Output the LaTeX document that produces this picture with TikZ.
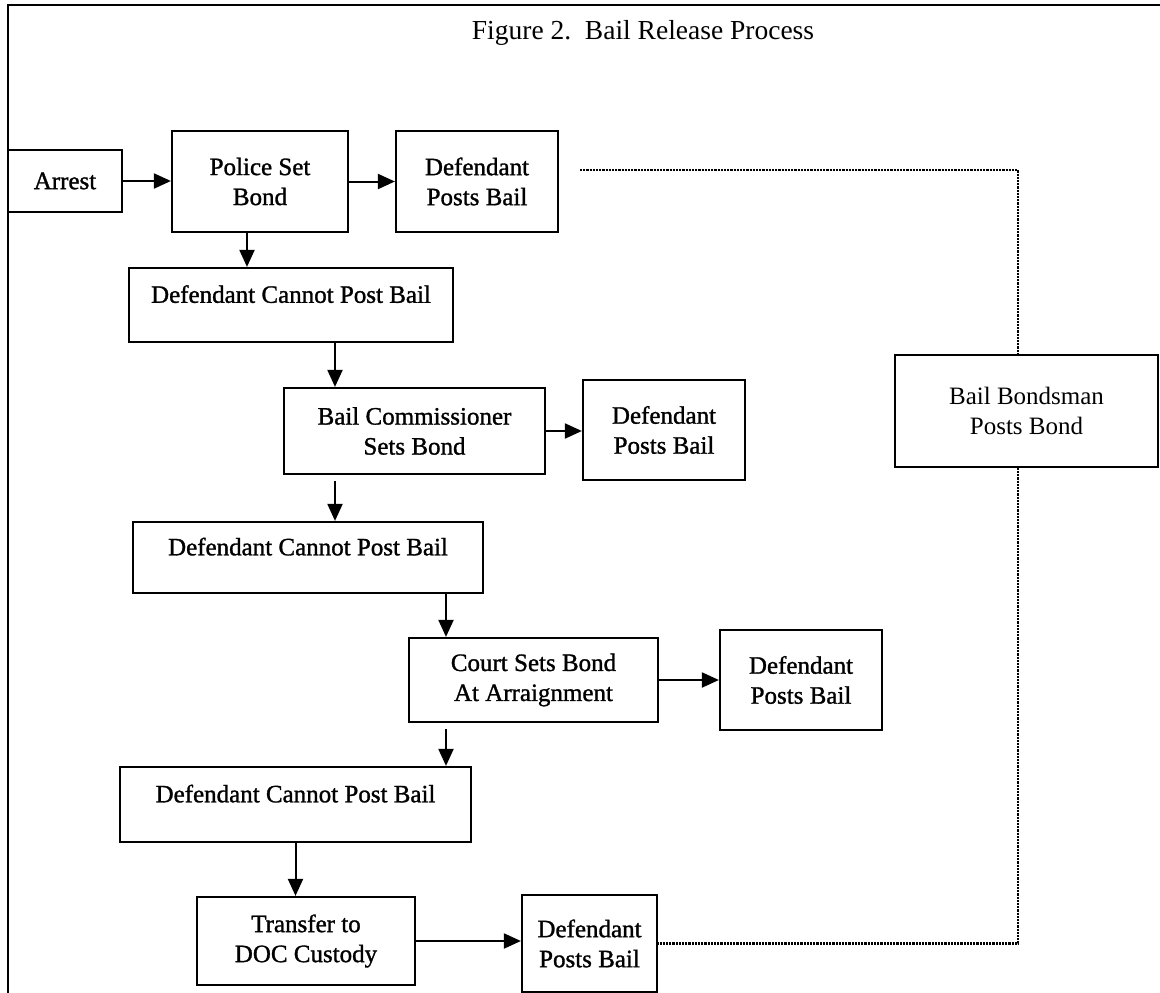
\documentclass[tikz,border=0pt]{standalone}
\usepackage{fontspec}
\setmainfont{Liberation Serif}
\newfontfamily\heavyfont[FakeBold=1.2]{Liberation Serif}
\usetikzlibrary{arrows.meta,calc}
\tikzset{
  box/.style={draw, line width=2.2pt, align=center, inner sep=0pt,
    font=\heavyfont\fontsize{25}{30}\selectfont},
  upbox/.style={box, text depth=22pt},
  litebox/.style={draw, line width=1.5pt, align=center, inner sep=0pt,
    font=\fontsize{25}{30}\selectfont},
  arr/.style={line width=2pt, -{Triangle[length=17pt,width=15pt]}},
  dots/.style={line width=2.6pt, dash pattern=on 2.2pt off 1pt}
}
\begin{document}
\begin{tikzpicture}[x=1pt,y=-1pt]
\useasboundingbox (0,0) rectangle (1160,993);
\draw[line width=2pt] (8,993) -- (8,5) -- (1160,5);
\node[font=\fontsize{27.5}{30}\selectfont] (title) at (643,33) {Figure 2.\ \ Bail Release Process};

\node[box, minimum width=114pt, minimum height=62pt] (arrest) at (65,181) {Arrest};
\node[box, minimum width=176pt, minimum height=101pt] (police) at (260,181.5) {Police Set\\Bond};
\node[box, minimum width=162pt, minimum height=101pt] (dpb1) at (477,181.5) {Defendant\\Posts Bail};
\node[upbox, minimum width=324pt, minimum height=74pt] (dcp1) at (291,305) {Defendant Cannot Post Bail};
\node[box, minimum width=261pt, minimum height=86pt] (bc) at (414.5,431) {Bail Commissioner\\Sets Bond};
\node[box, minimum width=162pt, minimum height=100pt] (dpb2) at (664,430) {Defendant\\Posts Bail};
\node[upbox, minimum width=350pt, minimum height=71pt] (dcp2) at (308,557.5) {Defendant Cannot Post Bail};
\node[box, minimum width=249pt, minimum height=84pt] (court) at (533.5,680) {Court Sets Bond\\At Arraignment};
\node[box, minimum width=162pt, minimum height=100pt] (dpb3) at (801,680) {Defendant\\Posts Bail};
\node[upbox, minimum width=351pt, minimum height=75pt] (dcp3) at (295.5,804.5) {Defendant Cannot Post Bail};
\node[box, minimum width=218pt, minimum height=88pt] (doc) at (306,941) {Transfer to\\DOC Custody};
\node[box, minimum width=135pt, minimum height=97pt] (dpb4) at (589.5,943.5) {Defendant\\Posts Bail};
\node[litebox, minimum width=263pt, minimum height=112pt] (bond) at (1026.5,411) {Bail Bondsman\\Posts Bond};

\draw[arr] (arrest.east) -- (arrest.east -| police.west);
\draw[arr] (police.east) -- (police.east -| dpb1.west);
\draw[arr] ([xshift=-13pt]police.south) -- ([xshift=-13pt]police.south |- dcp1.north);
\draw[arr] ([xshift=44pt]dcp1.south) -- ([xshift=44pt]dcp1.south |- bc.north);
\draw[arr] (bc.east) -- (bc.east -| dpb2.west);
\draw[arr] ([xshift=-79.5pt,yshift=-6pt]bc.south) -- ([xshift=-79.5pt]bc.south |- dcp2.north);
\draw[arr] ([xshift=138pt]dcp2.south) -- ([xshift=138pt]dcp2.south |- court.north);
\draw[arr] (court.east) -- (court.east -| dpb3.west);
\draw[arr] ([xshift=-87.5pt,yshift=-6pt]court.south) -- ([xshift=-87.5pt]court.south |- dcp3.north);
\draw[arr] (dcp3.south) -- (dcp3.south |- doc.north);
\draw[arr] (doc.east) -- (doc.east -| dpb4.west);

\coordinate (dstart) at (580,170);
\draw[dots] (dstart) -- (1018,170) -- ([xshift=-8.5pt]bond.north);
\draw[dots] ([xshift=-8.5pt]bond.south) -- ([xshift=-8.5pt]bond.south |- dpb4.east) -- (dpb4.east);
\end{tikzpicture}
\end{document}
